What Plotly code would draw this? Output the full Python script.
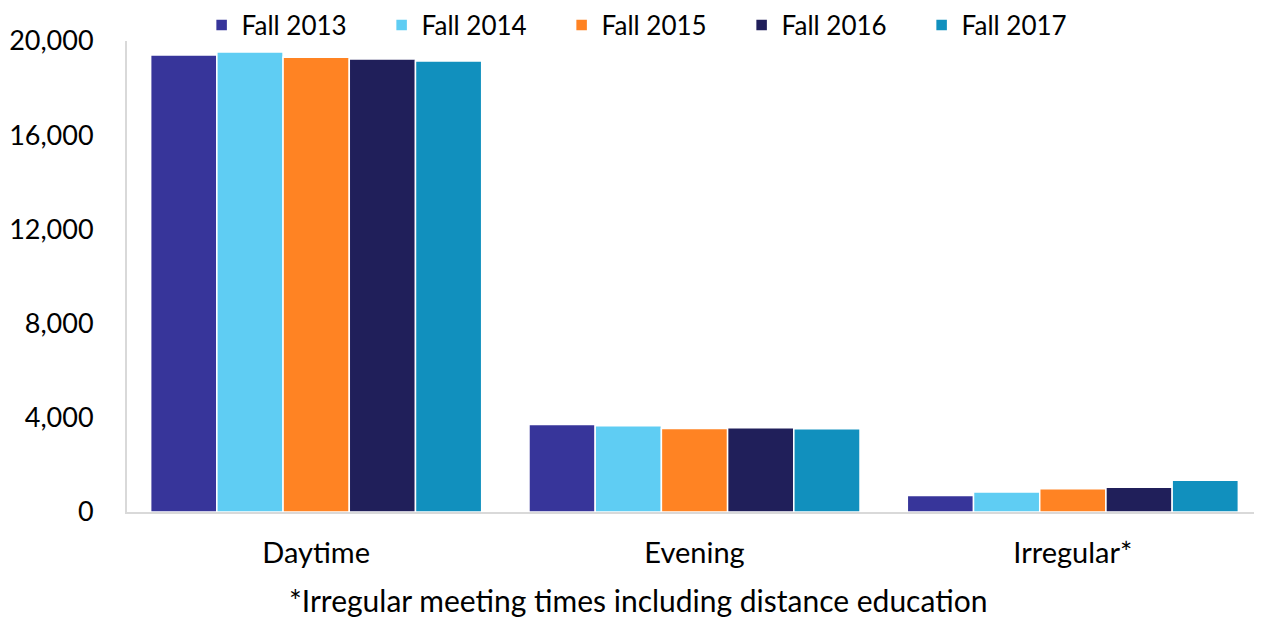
import plotly.graph_objects as go

categories = ["Daytime", "Evening", "Irregular*"]
series_names = ["Fall 2013", "Fall 2014", "Fall 2015", "Fall 2016", "Fall 2017"]
fall_2013 = [19410, 3720, 700]
fall_2014 = [19530, 3660, 850]
fall_2015 = [19310, 3550, 990]
fall_2016 = [19240, 3580, 1050]
fall_2017 = [19150, 3540, 1350]
colors = ["#37359A", "#5FCDF3", "#FF8323", "#201F5A", "#1190BE"]
y_ticks = [0, 4000, 8000, 12000, 16000, 20000]
y_tick_labels = ["0", "4,000", "8,000", "12,000", "16,000", "20,000"]
footnote = "*Irregular meeting times including distance education"

FONT = "Lato, Open Sans, sans-serif"

fig = go.Figure()
for name, vals, col in zip(series_names, [fall_2013, fall_2014, fall_2015, fall_2016, fall_2017], colors):
    fig.add_trace(go.Bar(name=name, x=categories, y=vals, marker=dict(color=col, line=dict(color="white", width=1.5))))

fig.update_layout(
    width=1254, height=610,
    barmode="group", bargap=0.125, bargroupgap=0,
    plot_bgcolor="white", paper_bgcolor="white",
    margin=dict(l=119, r=0, t=33, b=106, autoexpand=False),
    font=dict(family=FONT, size=28, color="black"),
    legend=dict(orientation="h", x=0.1544, xanchor="left", xref="container", y=1.034, yanchor="middle",
                yref="paper", font=dict(size=26), itemwidth=30, traceorder="normal",
                tracegroupgap=0, entrywidth=135, entrywidthmode="pixels",
                bgcolor="rgba(0,0,0,0)"),
    xaxis=dict(showline=True, linecolor="#D9D9D9", linewidth=2, ticks="", tickfont=dict(size=29),
               showgrid=False, ticklabelstandoff=14),
    yaxis=dict(range=[0, 20000], tickvals=y_ticks, ticktext=y_tick_labels, showline=True,
               linecolor="#D9D9D9", linewidth=2, showgrid=False, zeroline=False, ticks="",
               tickfont=dict(size=27), ticklabelstandoff=26),
    annotations=[dict(text=footnote, xref="paper", yref="paper", x=0.45, y=-0.187,
                      xanchor="center", yanchor="middle", showarrow=False, font=dict(size=30))],
)
fig.write_html("out.html")
